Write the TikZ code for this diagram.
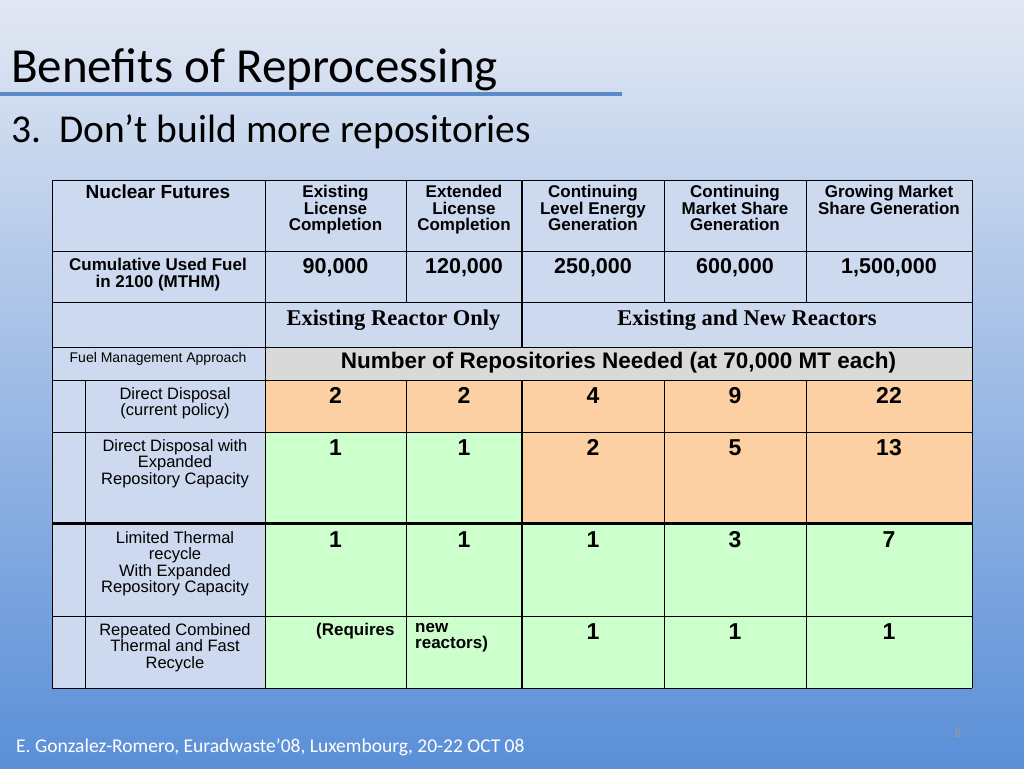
\documentclass[tikz,border=0pt]{standalone}
\usepackage{fontspec}
\setmainfont{Liberation Sans}
\newfontfamily\calfont{Carlito}
\newfontfamily\tmsfont{Liberation Serif}
\begin{document}
\begin{tikzpicture}[x=1pt,y=-1pt,
  cell/.style={draw=black,line width=0.8pt},
  hd/.style={font=\fontsize{17}{16.5}\selectfont\bfseries,align=center,anchor=north,inner sep=2pt},
  lb/.style={font=\fontsize{16.5}{16.5}\selectfont,align=center,anchor=north,inner sep=2pt},
  num/.style={font=\fontsize{23}{23}\selectfont\bfseries,anchor=north,inner sep=2pt}]
\definecolor{bgt}{HTML}{E2E8F3}\definecolor{bgb}{HTML}{5A8FD8}
\definecolor{hb}{HTML}{CDD9EE}\definecolor{gr}{HTML}{D9D9D9}
\definecolor{orn}{HTML}{FCD0A2}\definecolor{grn}{HTML}{CCFFCC}
\definecolor{ul}{HTML}{5A8AC8}
\shade[top color=bgt,bottom color=bgb] (0,0) rectangle (1024,768);
\useasboundingbox (0,0) rectangle (1024,768);
\node[anchor=base west,font=\calfont\fontsize{49}{49}\selectfont,inner sep=0] (t) at (11,82) {Benefits of Reprocessing};
\draw[ul,line width=3.5pt] (0,94) -- (622,94);
\node[anchor=base west,font=\calfont\fontsize{39.5}{39.5}\selectfont,inner sep=0] (st) at (11,142) {3.\ \ Don’t build more repositories};
\node[anchor=base west,font=\calfont\fontsize{19.5}{19.5}\selectfont,inner sep=0,text=white] (ft) at (16,752) {E. Gonzalez-Romero, Euradwaste’08, Luxembourg, 20-22 OCT 08};
\node[font=\calfont\fontsize{13}{13}\selectfont,text=gray!80] (pg) at (958,733) {8};
% fills
\fill[hb] (52,180) rectangle (972,347);
\fill[hb] (52,347) rectangle (265,380);
\fill[gr] (265,347) rectangle (972,380);
\fill[hb] (52,380) rectangle (265,688);
\fill[orn] (265,380) rectangle (972,432);
\fill[orn] (522,432) rectangle (972,523);
\fill[grn] (265,432) rectangle (522,523);
\fill[grn] (265,523) rectangle (972,688);
% grid
\foreach \y in {180,251,302,347,380,432,616,688} \draw[cell] (52,\y) -- (972,\y);
\draw[line width=3pt] (52,523) -- (972,523);
\draw[cell] (52,180) -- (52,688);
\draw[cell] (85,380) -- (85,688);
\draw[cell] (265,180) -- (265,688);
\foreach \x in {406,664,806} {\draw[cell] (\x,180) -- (\x,302); \draw[cell] (\x,380) -- (\x,688);}
\draw[cell] (972,180) -- (972,688);
\draw[line width=2.5pt] (522,180) -- (522,347);
\draw[line width=2.5pt] (522,380) -- (522,688);
% header
\node[hd,font=\fontsize{19}{19}\selectfont\bfseries] (h0) at (158,183) {Nuclear Futures};
\node[hd] (h1) at (335.5,183) {Existing\\License\\Completion};
\node[hd] (h2) at (464,183) {Extended\\License\\Completion};
\node[hd] (h3) at (593,183) {Continuing\\Level Energy\\Generation};
\node[hd] (h4) at (735,183) {Continuing\\Market Share\\Generation};
\node[hd] (h5) at (889,183) {Growing Market\\Share Generation};
\node[hd] (r1) at (158,256) {Cumulative Used Fuel\\in 2100 (MTHM)};
\node[num,font=\fontsize{21.5}{21.5}\selectfont\bfseries] (c11) at (335.5,256) {90,000};
\node[num,font=\fontsize{21.5}{21.5}\selectfont\bfseries] (c12) at (464,256) {120,000};
\node[num,font=\fontsize{21.5}{21.5}\selectfont\bfseries] (c13) at (593,256) {250,000};
\node[num,font=\fontsize{21.5}{21.5}\selectfont\bfseries] (c14) at (735,256) {600,000};
\node[num,font=\fontsize{21.5}{21.5}\selectfont\bfseries] (c15) at (889,256) {1,500,000};
\node[font=\tmsfont\fontsize{22.5}{22.5}\selectfont\bfseries] (er) at (393.5,320) {Existing Reactor Only};
\node[font=\tmsfont\fontsize{22.5}{22.5}\selectfont\bfseries] (en) at (747,320) {Existing and New Reactors};
\node[font=\fontsize{14}{14}\selectfont] (fm) at (158,359) {Fuel Management Approach};
\node[font=\fontsize{22.5}{22.5}\selectfont\bfseries] (nr) at (618.5,363) {Number of Repositories Needed (at 70,000 MT each)};
% rows
\node[lb] (a1) at (175,385) {Direct Disposal\\(current policy)};
\node[lb] (a2) at (175,437) {Direct Disposal with\\Expanded\\Repository Capacity};
\node[lb] (a3) at (175,529) {Limited Thermal\\recycle\\With Expanded\\Repository Capacity};
\node[lb] (a4) at (175,621) {Repeated Combined\\Thermal and Fast\\Recycle};
\foreach \r/\y/\a/\b/\c/\d/\e in {1/385/2/2/4/9/22, 2/437/1/1/2/5/13, 3/529/1/1/1/3/7} {
  \node[num] (n\r a) at (335.5,\y) {\a};
  \node[num] (n\r b) at (464,\y) {\b};
  \node[num] (n\r c) at (593,\y) {\c};
  \node[num] (n\r d) at (735,\y) {\d};
  \node[num] (n\r e) at (889,\y) {\e};
}
\node[hd,anchor=north west] (rq) at (314,621) {(Requires};
\node[hd,anchor=north west,align=left] (nw) at (413,621) {new\\reactors)};
\node[num] (n4c) at (593,621) {1};
\node[num] (n4d) at (735,621) {1};
\node[num] (n4e) at (889,621) {1};
\end{tikzpicture}
\end{document}
